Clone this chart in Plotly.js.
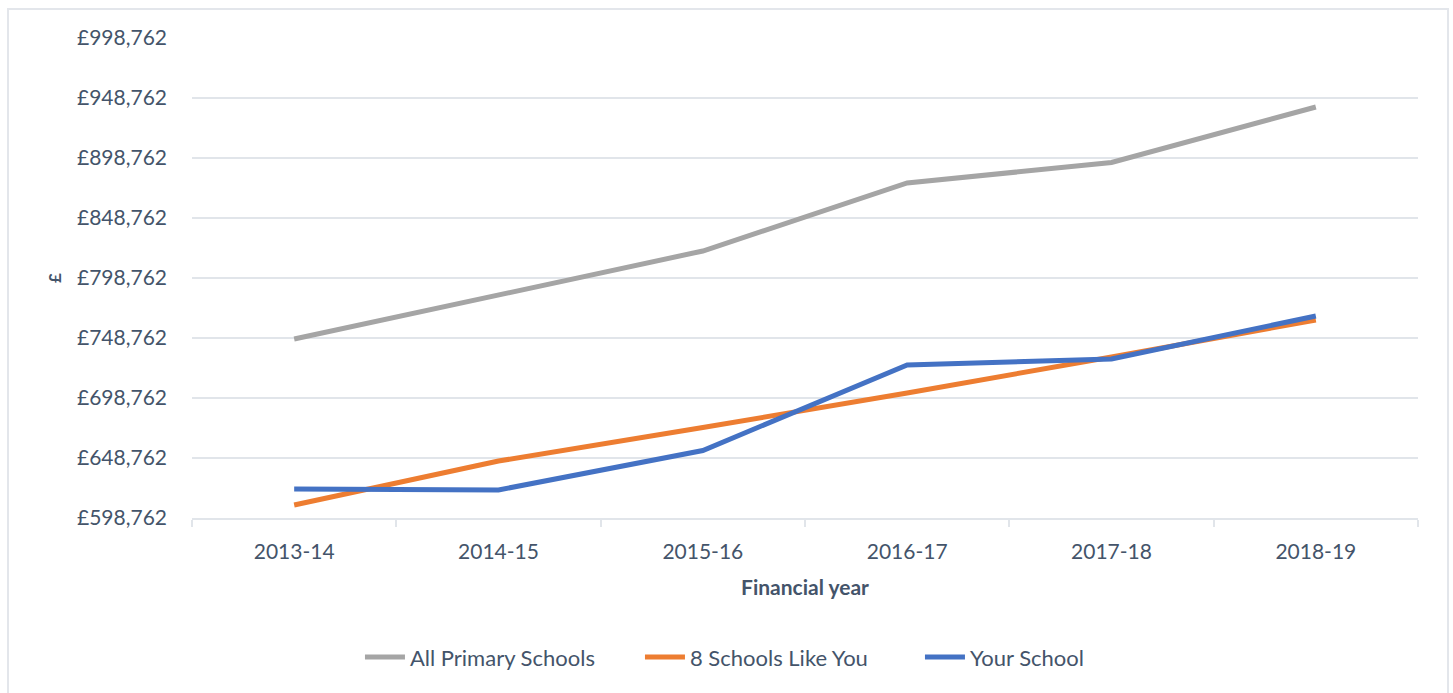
<!DOCTYPE html>
<html>
<head>
<meta charset="utf-8">
<script src="https://cdn.plot.ly/plotly-3.0.1.min.js"></script>
<style>
  html, body { margin: 0; padding: 0; background: #fff; }
  #chart { width: 1453px; height: 693px; }
  #frame { position: absolute; left: 7px; top: 8px; width: 1438px; height: 700px;
           border: 2px solid #E3E6EB; pointer-events: none; }
</style>
</head>
<body>
<div id="chart"></div>
<div id="frame"></div>
<script>
const years = ["2013-14", "2014-15", "2015-16", "2016-17", "2017-18", "2018-19"];
const allPrimary = [747929, 784595, 821262, 877929, 895012, 941262];
const similarSchools = [609595, 646262, 674179, 702929, 732929, 763762];
const yourSchool = [622929, 622095, 655012, 726262, 731262, 767095];
const yTicks = [598762, 648762, 698762, 748762, 798762, 848762, 898762, 948762, 998762];

const textColor = "#44546A";
const gridColor = "#E1E5EA";
const fontFamily = "Lato, 'Open Sans', sans-serif";

const traces = [
  { x: years, y: allPrimary, name: "All Primary Schools", type: "scatter", mode: "lines",
    line: { color: "#A5A5A5", width: 5 } },
  { x: years, y: similarSchools, name: "8 Schools Like You", type: "scatter", mode: "lines",
    line: { color: "#ED7D31", width: 5 } },
  { x: years, y: yourSchool, name: "Your School", type: "scatter", mode: "lines",
    line: { color: "#4472C4", width: 5 } }
];

const layout = {
  width: 1453, height: 693,
  margin: { l: 192, r: 35, t: 38, b: 175 },
  paper_bgcolor: "#fff", plot_bgcolor: "#fff",
  font: { family: fontFamily, color: textColor, size: 21 },
  showlegend: true,
  legend: { orientation: "h", x: 0.137, xanchor: "left", y: -0.29, yanchor: "middle",
            font: { size: 22, color: textColor }, itemwidth: 40, traceorder: "normal",
            entrywidth: 225, entrywidthmode: "pixels" },
  xaxis: {
    type: "category", range: [-0.5, 5.5],
    showgrid: false, showline: true, linecolor: gridColor, linewidth: 2,
    ticks: "outside", tickson: "boundaries", ticklen: 7, tickcolor: gridColor, tickwidth: 2,
    ticklabelstandoff: 14,
    tickfont: { size: 21, color: textColor },
    title: { text: "Financial year", font: { size: 21, color: textColor, weight: "bold" }, standoff: 18 },
    zeroline: false, fixedrange: true
  },
  yaxis: {
    range: [598762, 998762], tickmode: "array", tickvals: yTicks,
    ticktext: yTicks.map(v => "£" + v.toLocaleString("en-GB")),
    showgrid: true, gridcolor: gridColor, gridwidth: 2,
    showline: false, zeroline: false, ticks: "",
    ticklabelstandoff: 24,
    tickfont: { size: 21, color: textColor },
    title: { text: "£", font: { size: 17, color: textColor, weight: "bold" }, standoff: 11 },
    fixedrange: true
  }
};

Plotly.newPlot("chart", traces, layout, { displayModeBar: false, staticPlot: true });
</script>
</body>
</html>
